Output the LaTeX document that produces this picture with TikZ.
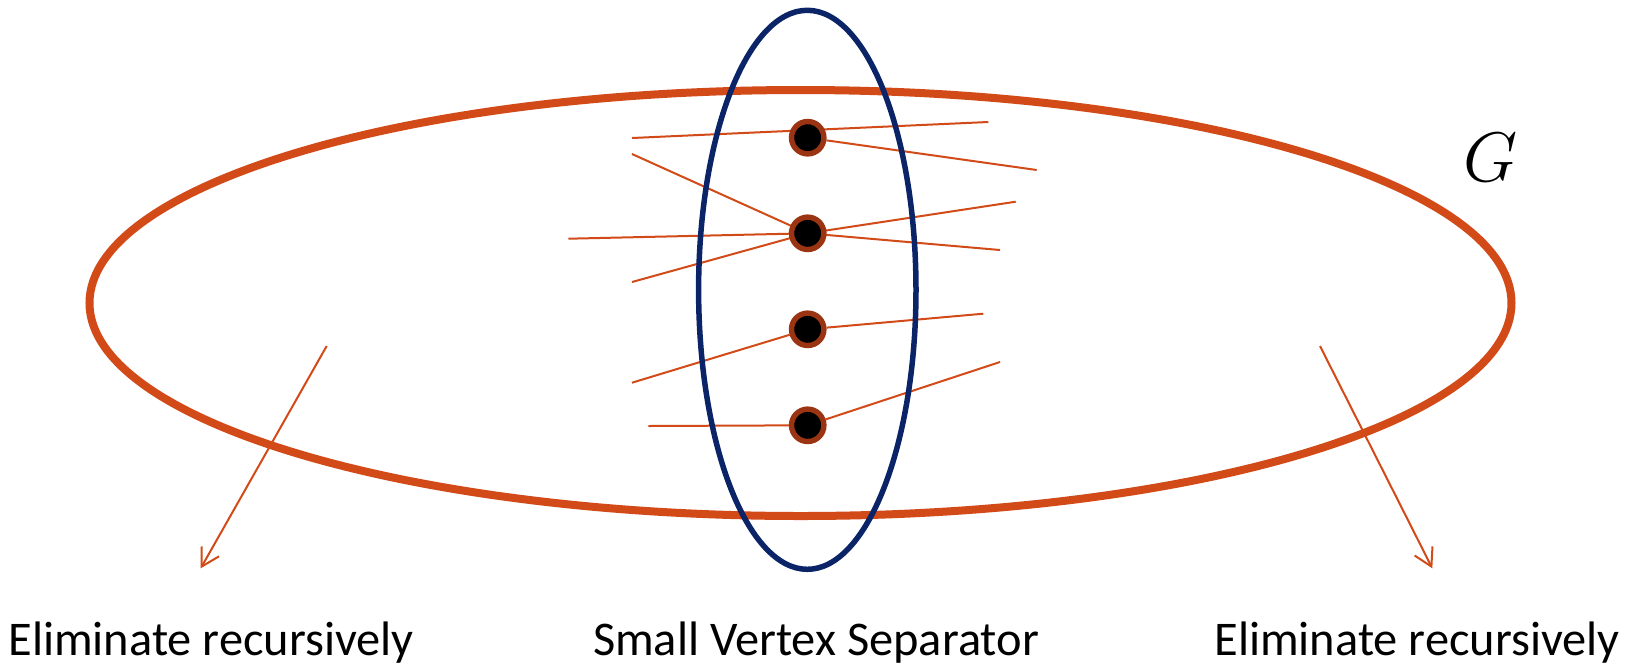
\documentclass[tikz,border=0pt]{standalone}
\usepackage{fontspec}
\setmainfont{Carlito}
\usetikzlibrary{arrows.meta,shapes.geometric,backgrounds}
\definecolor{gorange}{HTML}{D24A18}
\definecolor{sepblue}{HTML}{0A2467}
\definecolor{ringbrown}{HTML}{9A3412}
\tikzset{
  vtx/.style  = {circle, draw=ringbrown, fill=black, line width=2.7pt,
                 minimum size=16.2pt, inner sep=0pt},
  edg/.style  = {draw=gorange, line width=1pt},
  ar/.style   = {-{Straight Barb[length=8.7pt, width=10pt]}, draw=gorange,
                 line width=1pt},
  lbl/.style  = {font=\fontsize{24.2}{28}\selectfont, anchor=base, inner sep=0pt}
}

\begin{document}
\begin{tikzpicture}[x=0.5pt, y=-0.5pt]
  \useasboundingbox (0,0) rectangle (1630,666);
  % the graph and the separator
  \node[ellipse, draw=gorange, line width=4pt, inner sep=0pt,
        minimum width=711pt, minimum height=213pt] (graphG) at (800.5,303) {};
  \node[ellipse, draw=sepblue, line width=2.75pt, inner sep=0pt,
        minimum width=108.7pt, minimum height=279.5pt] (sep) at (807.3,289.8) {};
  \node[font=\fontsize{24.88}{30}\selectfont, scale=1.41, transform shape]
        (gname) at (1490.7,157.7) {$G$};
  % separator vertices
  \node[vtx] (v1) at (807.7,137.7) {};
  \node[vtx] (v2) at (807.7,233.3) {};
  \node[vtx] (v3) at (807.7,329.3) {};
  \node[vtx] (v4) at (807.7,425.3) {};
  % loose edge ends
  \coordinate (a1) at (632,138);    \coordinate (b1) at (988.3,122);
  \coordinate (b2) at (1036.7,170);
  \coordinate (a3) at (632,154);    \coordinate (a4) at (568.3,238.7);
  \coordinate (a5) at (632,282);    \coordinate (b3) at (1015.7,201.7);
  \coordinate (b4) at (1000,250);
  \coordinate (a6) at (632,382.7);  \coordinate (b5) at (983.3,313.7);
  \coordinate (a7) at (648.3,426);  \coordinate (b6) at (1000,362);
  \begin{scope}[on background layer]
    \draw[edg] (a1) -- (b1);
    \draw[edg] (v1) -- (b2);
    \draw[edg] (a3) -- (v2.center);
    \draw[edg] (a4) -- (v2.center);
    \draw[edg] (a5) -- (v2.center);
    \draw[edg] (v2.center) -- (b3);
    \draw[edg] (v2.center) -- (b4);
    \draw[edg] (a6) -- (v3);
    \draw[edg] (v3) -- (b5);
    \draw[edg] (a7) -- (v4);
    \draw[edg] (v4) -- (b6);
  \end{scope}
  % recursion arrows
  \coordinate (lstart) at (326.7,346);  \coordinate (lend) at (200.7,568.3);
  \coordinate (rstart) at (1320,346);   \coordinate (rend) at (1432.3,568.3);
  \draw[ar] (lstart) -- (lend);
  \draw[ar] (rstart) -- (rend);
  % captions
  \node[lbl, anchor=base west] (lcap) at (8,655) {Eliminate recursively};
  \node[lbl] (mcap) at (816,655) {Small Vertex Separator};
  \node[lbl, anchor=base west] (rcap) at (1214,655) {Eliminate recursively};
\end{tikzpicture}
\end{document}
